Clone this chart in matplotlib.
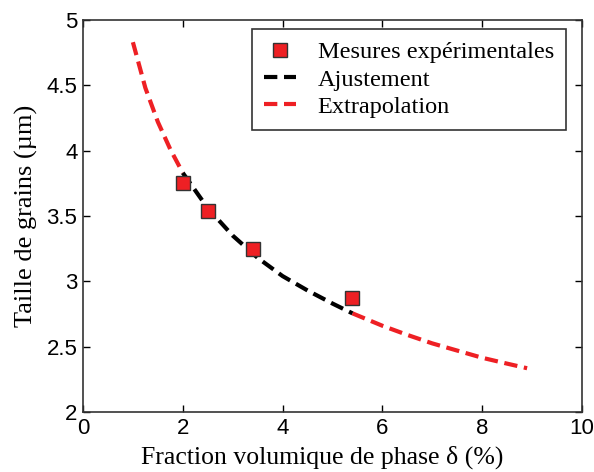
import matplotlib
matplotlib.use('Agg')
import matplotlib.pyplot as plt

# measured points
frac_mes = [2.0, 2.5, 3.4, 5.4]
taille_mes = [3.75, 3.54, 3.25, 2.87]

# fitted curve (ajustement)
frac_fit = [2.0, 2.5, 3.0, 3.5, 4.0, 4.5, 5.0, 5.4]
taille_fit = [3.83, 3.56, 3.35, 3.18, 3.04, 2.93, 2.83, 2.755]

# extrapolated parts
frac_ext_lo = [1.0, 1.25, 1.5, 1.75, 2.0]
taille_ext_lo = [4.83, 4.48, 4.22, 4.01, 3.83]
frac_ext_hi = [5.4, 6.0, 6.5, 7.0, 7.5, 8.0, 8.5, 8.9]
taille_ext_hi = [2.755, 2.66, 2.59, 2.525, 2.47, 2.415, 2.37, 2.335]

serif = ['Liberation Serif', 'DejaVu Serif']
sans = ['Liberation Sans', 'DejaVu Sans']

fig = plt.figure(figsize=(5.94, 4.72), dpi=100)
ax = fig.add_axes([83 / 594, 60 / 472, 499 / 594, 392 / 472])

red = '#ee2024'
dash = (0, (3.2, 1.6))
ax.plot(frac_ext_lo, taille_ext_lo, color=red, lw=3, linestyle=dash)
ax.plot(frac_ext_hi, taille_ext_hi, color=red, lw=3, linestyle=dash, label='Extrapolation')
ax.plot(frac_fit, taille_fit, color='black', lw=3, linestyle=dash, label='Ajustement')
ax.plot(frac_mes, taille_mes, 's', ms=10, mfc=red, mec='#333333', mew=1,
        label='Mesures expérimentales', zorder=5)

ax.set_xlim(0, 10)
ax.set_ylim(2, 5)
ax.set_xticks([0, 2, 4, 6, 8, 10])
ax.set_yticks([2, 2.5, 3, 3.5, 4, 4.5, 5])
ax.set_yticklabels(['2', '2.5', '3', '3.5', '4', '4.5', '5'])
ax.tick_params(direction='in', top=True, right=True, length=5, width=1,
               labelsize=16, pad=4)
for lab in ax.get_xticklabels() + ax.get_yticklabels():
    lab.set_family(sans)
for s in ax.spines.values():
    s.set_linewidth(1.2)
    s.set_color('#333333')

ax.set_xlabel('Fraction volumique de phase δ (%)', family=serif, fontsize=18.5, labelpad=3)
ax.xaxis.set_label_coords(0.48, -0.085)
ax.set_ylabel('Taille de grains (µm)', family=serif, fontsize=19, labelpad=6)

h, l = ax.get_legend_handles_labels()
order = [2, 1, 0]
leg = ax.legend([h[i] for i in order], [l[i] for i in order],
                loc='upper right', bbox_to_anchor=(0.968, 0.977),
                prop={'family': serif, 'size': 17.5}, fancybox=False,
                edgecolor='#333333', framealpha=1, handlelength=1.3,
                handletextpad=0.9, borderpad=0.5, labelspacing=0.22,
                borderaxespad=0)
leg.get_frame().set_linewidth(1.2)

fig.savefig('out.png', dpi=100)
